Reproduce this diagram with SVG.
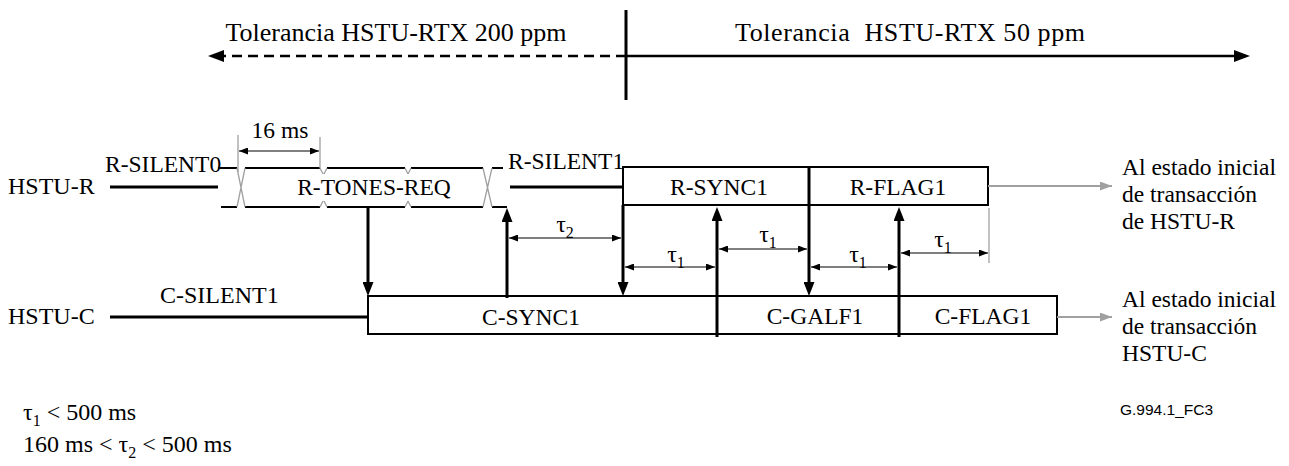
<svg xmlns="http://www.w3.org/2000/svg" width="1289" height="466" viewBox="0 0 1289 466" font-family="'Liberation Serif', 'Times New Roman', 'DejaVu Serif', serif" font-size="23.5">
<style>
text{font-family:'Liberation Serif','Times New Roman','DejaVu Serif',serif;font-size:23.5px;fill:#000}
text.big{font-size:26px}
text.lab{font-size:24px}
.mid{text-anchor:middle}
.thick{stroke:#000;stroke-width:3;fill:none}
.band{stroke:#000;stroke-width:2;fill:none}
.box{stroke:#000;stroke-width:2;fill:#fff}
.div{stroke:#000;stroke-width:3;fill:none}
.dim{stroke:#000;stroke-width:1.2;fill:none;marker-start:url(#dh);marker-end:url(#dh)}
.gray{stroke:#a0a0a0;stroke-width:1.3;fill:none}
.garrow{stroke:#a0a0a0;stroke-width:2;fill:none;marker-end:url(#gh)}
.sig{stroke:#000;stroke-width:3;fill:none;marker-end:url(#bh)}
.top{stroke:#000;stroke-width:2.5;fill:none;marker-end:url(#th)}
text.id{font-family:'Liberation Sans',Arial,sans-serif;font-size:15.5px}
.sub{font-size:16px}
</style>
<defs>
<marker id="bh" viewBox="0 0 14 11" refX="6" refY="5.5" markerWidth="14" markerHeight="11" markerUnits="userSpaceOnUse" orient="auto"><path d="M0,0 L14,5.5 L0,11 z" fill="#000"/></marker>
<marker id="th" viewBox="0 0 16 12" refX="4" refY="6" markerWidth="16" markerHeight="12" markerUnits="userSpaceOnUse" orient="auto"><path d="M0,0 L16,6 L0,12 z" fill="#000"/></marker>
<marker id="dh" viewBox="0 0 9 7" refX="9" refY="3.5" markerWidth="9" markerHeight="7" markerUnits="userSpaceOnUse" orient="auto-start-reverse"><path d="M0,0 L9,3.5 L0,7 z" fill="#000"/></marker>
<marker id="gh" viewBox="0 0 12 9" refX="12" refY="4.5" markerWidth="12" markerHeight="9" markerUnits="userSpaceOnUse" orient="auto"><path d="M0,0 L12,4.5 L0,9 z" fill="#a0a0a0"/></marker>
</defs>

<g id="tolerance">
<line x1="626" y1="10" x2="626" y2="100" class="thick"/>
<text x="396" y="41" class="mid big">Tolerancia HSTU-RTX 200 ppm</text>
<text x="910" y="41" class="mid big" xml:space="preserve" textLength="350">Tolerancia  HSTU-RTX 50 ppm</text>
</g>

<g id="hstu-r">
<text x="8" y="194" class="lab">HSTU-R</text>
<line x1="110" y1="187" x2="218" y2="187" class="thick"/>
</g>

<g id="r-silent0">
<text x="105" y="172">R-SILENT0</text>
</g>

<g id="r-tones-req">
<path class="band" d="M218,168 H237 M245,168 H320 M327,168 H405 M411,168 H483 M492,168 H503 M221,207 H237 M245,207 H320 M327,207 H405 M411,207 H483 M492,207 H507"/>
<path class="gray" d="M237,168 L245,207 M245,168 L237,207 M483,168 L492,207 M492,168 L483,207 M320,168 L323,174 M327,168 L324,174 M323,201 L320,207 M324,201 L327,207 M405,168 L408,174 M411,168 L408,174 M408,201 L405,207 M408,201 L411,207"/>
<text x="374" y="195" class="mid">R-TONES-REQ</text>
<path class="gray" d="M238,135 V172 M320,137 V168"/>
<text x="280" y="138" class="mid">16 ms</text>
</g>

<g id="r-silent1">
<text x="508" y="169">R-SILENT1</text>
<line x1="510" y1="187" x2="623" y2="187" class="thick"/>
</g>

<g id="r-sync1">
<rect x="623" y="167" width="186" height="38" class="box"/>
<text x="719" y="195" class="mid">R-SYNC1</text>
</g>
<g id="r-flag1">
<rect x="809" y="167" width="179" height="38" class="box"/>
<line x1="809" y1="167" x2="809" y2="205" class="div"/>
<text x="898" y="195" class="mid">R-FLAG1</text>
</g>

<g id="hstu-c">
<text x="8" y="324" class="lab">HSTU-C</text>
<line x1="110" y1="317" x2="368" y2="317" class="thick"/>
</g>
<g id="c-silent1">
<text x="160" y="303" class="lab">C-SILENT1</text>
</g>
<g id="c-sync1">
<rect x="368" y="296" width="349" height="38" class="box"/>
<text x="531" y="325" class="mid">C-SYNC1</text>
</g>
<g id="c-galf1">
<rect x="717" y="296" width="182" height="38" class="box"/>
<text x="815" y="324" class="mid">C-GALF1</text>
</g>
<g id="c-flag1">
<rect x="899" y="296" width="158" height="38" class="box"/>
<text x="983" y="324" class="mid">C-FLAG1</text>
</g>

<g id="to-r">
<text x="1122" y="175">Al estado inicial</text>
<text x="1122" y="202">de transacción</text>
<text x="1122" y="229">de HSTU-R</text>
</g>
<g id="to-c">
<text x="1122" y="307">Al estado inicial</text>
<text x="1122" y="334">de transacción</text>
<text x="1122" y="361">HSTU-C</text>
</g>

<g id="timing-labels">
<text x="565" y="232" class="mid lab">τ<tspan class="sub" dy="6">2</tspan></text>
<text x="676" y="262" class="mid lab">τ<tspan class="sub" dy="6">1</tspan></text>
<text x="768" y="242" class="mid lab">τ<tspan class="sub" dy="6">1</tspan></text>
<text x="858" y="262" class="mid lab">τ<tspan class="sub" dy="6">1</tspan></text>
<text x="943" y="247" class="mid lab">τ<tspan class="sub" dy="6">1</tspan></text>
</g>

<g id="notes">
<text x="23" y="420" class="lab">τ<tspan class="sub" dy="6">1</tspan><tspan dy="-6"> &lt; 500 ms</tspan></text>
<text x="23" y="452" class="lab">160 ms &lt; τ<tspan class="sub" dy="6">2</tspan><tspan dy="-6"> &lt; 500 ms</tspan></text>
<text x="1120" y="415" class="id">G.994.1_FC3</text>
</g>

<g id="connectors">
<line x1="626" y1="56" x2="220" y2="56" class="top" stroke-dasharray="10,6"/>
<line x1="626" y1="56" x2="1238" y2="56" class="top"/>
<line x1="368" y1="207" x2="368" y2="288" class="sig"/>
<line x1="507" y1="298" x2="507" y2="216" class="sig"/>
<line x1="623" y1="205" x2="623" y2="288" class="sig"/>
<line x1="717" y1="337" x2="717" y2="215" class="sig"/>
<line x1="809" y1="205" x2="809" y2="288" class="sig"/>
<line x1="899" y1="337" x2="899" y2="215" class="sig"/>
<line x1="239" y1="151" x2="319" y2="151" class="dim"/>
<line x1="509" y1="238" x2="621" y2="238" class="dim"/>
<line x1="625" y1="267" x2="715" y2="267" class="dim"/>
<line x1="719" y1="249" x2="807" y2="249" class="dim"/>
<line x1="811" y1="267" x2="897" y2="267" class="dim"/>
<line x1="901" y1="253" x2="988" y2="253" class="dim"/>
<line x1="989" y1="208" x2="989" y2="263" class="gray"/>
<line x1="988" y1="186" x2="1112" y2="186" class="garrow"/>
<line x1="1057" y1="317" x2="1112" y2="317" class="garrow"/>
</g>
</svg>
